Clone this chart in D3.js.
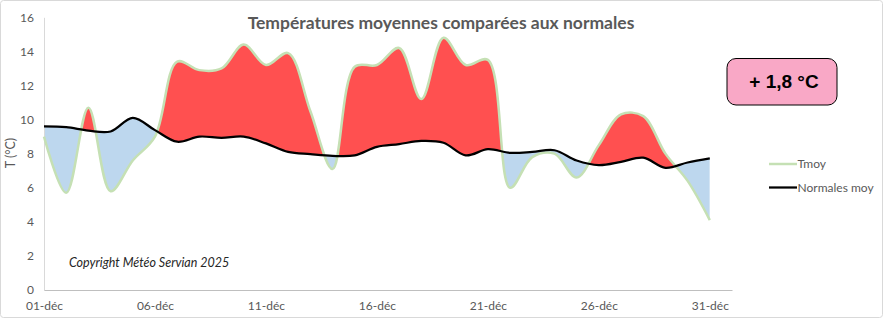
<!DOCTYPE html>
<html><head><meta charset="utf-8">
<script src="https://cdn.jsdelivr.net/npm/d3@7"></script>
<style>body{margin:0;background:#fff}svg{display:block}</style>
</head><body><svg id="c" width="883" height="318"></svg>
<script>
const days = d3.range(1, 32);
const tmoy = [9.0,5.7,10.7,5.8,7.6,9.0,13.4,12.9,13.0,14.4,13.2,13.9,10.5,7.1,13.1,13.2,14.2,11.2,14.8,13.2,13.5,6.0,7.8,8.0,6.6,8.5,10.3,10.2,8.0,6.4,4.1];
const normales = [9.6,9.55,9.35,9.3,10.1,9.38,8.7,9.0,8.93,9.0,8.6,8.1,7.97,7.87,7.9,8.4,8.56,8.75,8.64,7.9,8.26,8.05,8.1,8.2,7.6,7.33,7.52,7.76,7.17,7.48,7.72];
const yTicks = [0,2,4,6,8,10,12,14,16];
const xTickDays = [1,6,11,16,21,26,31];
const xTickLabels = ["01-déc","06-déc","11-déc","16-déc","21-déc","26-déc","31-déc"];
const title = "Températures moyennes comparées aux normales";
const ecart = "+ 1,8 °C";
const seriesNames = ["Tmoy","Normales moy"];

const svg = d3.select("#c");
const font = "Lato, 'Open Sans', sans-serif";
const x = d3.scaleLinear().domain([1, 32]).range([44, 732]);
const y = d3.scaleLinear().domain([0, 16]).range([290, 17.3]);
const curve = d3.curveCatmullRom.alpha(0.5);

// outer border
svg.append("rect").attr("x",0.5).attr("y",0.5).attr("width",882).attr("height",317)
  .attr("rx",3).attr("fill","#fff").attr("stroke","#d9d9d9");

const data = days.map((d,i)=>({d, t:tmoy[i], n:normales[i]}));
const defs = svg.append("defs");
defs.append("clipPath").attr("id","above").append("path")
  .attr("d", d3.area().x(p=>x(p.d)).y0(y(16)).y1(p=>y(p.n)).curve(curve)(data));
defs.append("clipPath").attr("id","below").append("path")
  .attr("d", d3.area().x(p=>x(p.d)).y0(y(0)).y1(p=>y(p.n)).curve(curve)(data));

svg.append("path").attr("clip-path","url(#above)").attr("fill","#ff5050")
  .attr("d", d3.area().x(p=>x(p.d)).y0(y(0)).y1(p=>y(p.t)).curve(curve)(data));
svg.append("path").attr("clip-path","url(#below)").attr("fill","#bdd7ee")
  .attr("d", d3.area().x(p=>x(p.d)).y0(y(16)).y1(p=>y(p.t)).curve(curve)(data));

// axes
const yAxis = d3.axisLeft(y).tickValues(yTicks).tickSize(0).tickPadding(10);
const gy = svg.append("g").attr("transform","translate(44,0)").call(yAxis);
gy.select(".domain").attr("stroke","#d9d9d9");
gy.selectAll("text").attr("font-family",font).attr("font-size",12).attr("fill","#595959");

const xAxis = d3.axisBottom(x).tickValues(xTickDays).tickSize(0).tickPadding(11)
  .tickFormat((d,i)=>xTickLabels[i]);
const gx = svg.append("g").attr("transform","translate(0,290)").call(xAxis);
gx.select(".domain").attr("stroke","#bfbfbf");
gx.selectAll("text").attr("font-family",font).attr("font-size",12).attr("fill","#595959");

// lines
svg.append("path").attr("fill","none").attr("stroke","#c5e0b4").attr("stroke-width",2.5)
  .attr("d", d3.line().x(p=>x(p.d)).y(p=>y(p.t)).curve(curve)(data));
svg.append("path").attr("fill","none").attr("stroke","#000").attr("stroke-width",2.25)
  .attr("d", d3.line().x(p=>x(p.d)).y(p=>y(p.n)).curve(curve)(data));

// title
svg.append("text").attr("x",441).attr("y",29).attr("text-anchor","middle")
  .attr("font-family",font).attr("font-weight","bold").attr("font-size",17.5).attr("fill","#595959").text(title);

// y title
svg.append("text").attr("transform","translate(15,153) rotate(-90)").attr("text-anchor","middle")
  .attr("font-family",font).attr("font-size",12.5).attr("fill","#595959").text("T (°C)");

// copyright
svg.append("text").attr("x",69).attr("y",267).attr("font-family",font).attr("font-style","italic")
  .attr("font-size",12.5).attr("fill","#262626").text("Copyright Météo Servian 2025");

// box
svg.append("rect").attr("x",727).attr("y",58.5).attr("width",110).attr("height",46.5).attr("rx",9)
  .attr("fill","#f9a8c6").attr("stroke","#000").attr("stroke-width",1);
svg.append("text").attr("x",784).attr("y",88).attr("text-anchor","middle")
  .attr("font-family","'Liberation Sans', Arial, sans-serif").attr("font-weight","bold").attr("font-size",19).attr("fill","#000").text(ecart);

// legend
const leg = [{c:"#c5e0b4",w:2.5,yy:164},{c:"#000",w:2.25,yy:187.5}];
leg.forEach((l,i)=>{
  svg.append("line").attr("x1",769).attr("x2",797).attr("y1",l.yy).attr("y2",l.yy).attr("stroke",l.c).attr("stroke-width",l.w);
  svg.append("text").attr("x",797.5).attr("y",l.yy+4).attr("font-family",font).attr("font-size",12).attr("fill","#595959").text(seriesNames[i]);
});
</script></body></html>
